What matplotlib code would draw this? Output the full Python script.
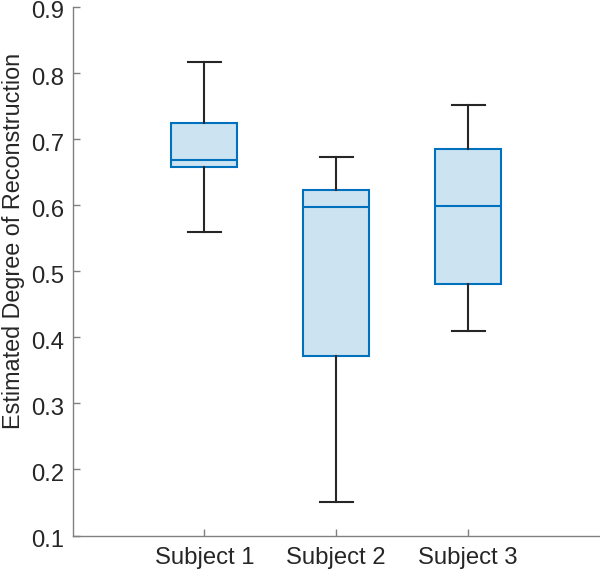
import matplotlib
matplotlib.use("Agg")
import matplotlib.pyplot as plt
from matplotlib.transforms import ScaledTranslation

# box statistics
sujetos = ["Subject 1", "Subject 2", "Subject 3"]
whislo = [0.559, 0.150, 0.410]
q1 = [0.658, 0.372, 0.480]
med = [0.668, 0.597, 0.599]
q3 = [0.725, 0.6235, 0.685]
whishi = [0.816, 0.6725, 0.751]

plt.rcParams["font.family"] = ["Liberation Sans", "DejaVu Sans"]

AZUL = "#0072BD"
RELLENO = "#cce3f2"
GRIS = "#262626"

stats = []
for i in range(len(sujetos)):
    stats.append({"label": sujetos[i], "whislo": whislo[i], "q1": q1[i],
                  "med": med[i], "q3": q3[i], "whishi": whishi[i], "fliers": []})

fig = plt.figure(figsize=(6.0, 5.73), dpi=100)
ax = fig.add_axes([0.121, 0.0654, 0.879, 0.9224])

ax.bxp(stats, positions=[1, 2, 3], widths=0.5, patch_artist=True,
       showfliers=False,
       boxprops=dict(facecolor=RELLENO, edgecolor=AZUL, linewidth=1.5),
       medianprops=dict(color=AZUL, linewidth=1.5),
       whiskerprops=dict(color=GRIS, linewidth=1.5),
       capprops=dict(color=GRIS, linewidth=1.5),
       capwidths=0.25)

ax.set_xlim(0, 4)
ax.set_ylim(0.1, 0.9)
ax.set_yticks([0.1, 0.2, 0.3, 0.4, 0.5, 0.6, 0.7, 0.8, 0.9])
ax.set_yticklabels(["0.1", "0.2", "0.3", "0.4", "0.5", "0.6", "0.7", "0.8", "0.9"])
ax.set_xticks([1, 2, 3])
ax.set_xticklabels(sujetos)

ax.set_ylabel("Estimated Degree of Reconstruction", fontsize=16.8, color=GRIS)
ax.yaxis.set_label_coords(-0.09, 0.557)
ax.tick_params(direction="in", length=5, width=1, colors="#808080",
               labelcolor=GRIS, labelsize=17.2)
ax.tick_params(axis="x", pad=8)
ax.tick_params(axis="y", pad=6)

#ETIQUETAS DEL EJE Y UN POCO MAS ABAJO, COMO EN LA REFERENCIA
desplazamiento = ScaledTranslation(0, -3 / 100, fig.dpi_scale_trans)
for etiqueta in ax.get_yticklabels():
    etiqueta.set_transform(etiqueta.get_transform() + desplazamiento)

ax.spines[["top", "right"]].set_visible(False)
for s in ["left", "bottom"]:
    ax.spines[s].set_color("#808080")
    ax.spines[s].set_linewidth(1)

fig.savefig("out.png", dpi=100)
plt.close()
